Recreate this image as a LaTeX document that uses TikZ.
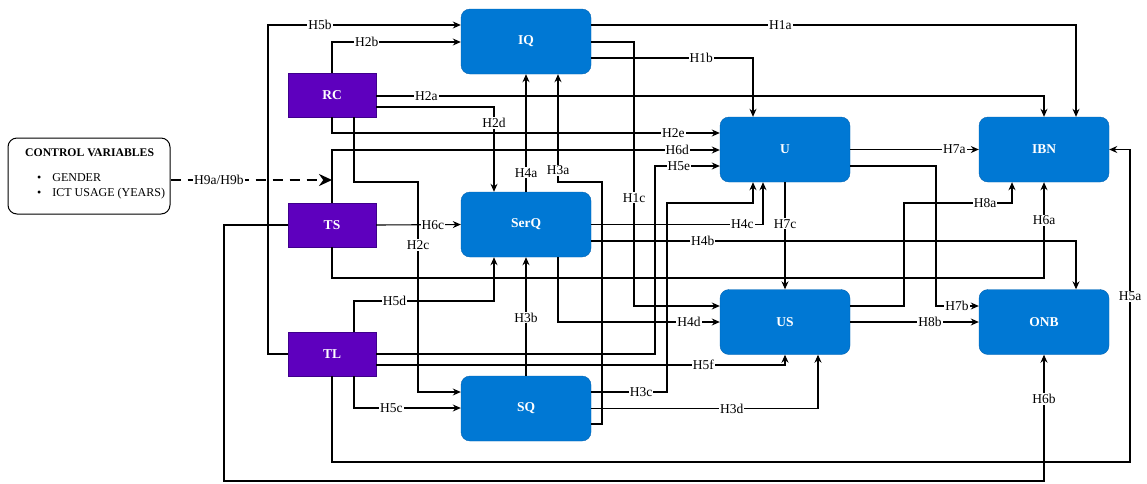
\documentclass[tikz,border=0pt]{standalone}
\usepackage{fontspec}
\setmainfont{Liberation Serif}
\usepackage{xcolor}
\usetikzlibrary{arrows.meta}

\definecolor{boxblue}{RGB}{0,120,212}
\definecolor{boxedge}{RGB}{0,98,178}
\definecolor{factorfill}{RGB}{94,0,190}
\definecolor{factoredge}{RGB}{62,0,140}

\tikzset{
  construct/.style={draw=boxedge, fill=boxblue, rounded corners=9pt,
    minimum width=130pt, minimum height=65pt, text=white,
    font=\fontsize{13.5}{15}\selectfont\bfseries},
  factor/.style={draw=factoredge, fill=factorfill, minimum width=88pt,
    minimum height=44pt, text=white,
    font=\fontsize{13.5}{15}\selectfont\bfseries},
  conn/.style={line width=1.1pt, -{Stealth[length=8pt,width=7pt]}},
  hlab/.style={fill=white, inner sep=1pt, font=\fontsize{13.5}{15}\selectfont},
  ctrlbox/.style={draw, line width=1pt, rounded corners=9pt, fill=white,
    minimum width=162pt, minimum height=76pt}
}

\begin{document}
\begin{tikzpicture}[x=1pt, y=-1pt]
  \useasboundingbox (0,0) rectangle (1147,483);

  % constructs
  \node[construct] (IQ)   at (526,41.5)  {IQ};
  \node[construct] (SerQ) at (526,224.5) {SerQ};
  \node[construct] (SQ)   at (526,408.5) {SQ};
  \node[construct] (U)    at (785,149.5) {U};
  \node[construct] (US)   at (785,322)   {US};
  \node[construct] (IBN)  at (1044,149.5) {IBN};
  \node[construct] (ONB)  at (1044,322)  {ONB};

  % factors
  \node[factor] (RC) at (332,95)  {RC};
  \node[factor] (TS) at (332,225) {TS};
  \node[factor] (TL) at (332,354) {TL};

  % control variables
  \node[ctrlbox] (ctrl) at (89,176) {};
  \node[anchor=base west, inner sep=0pt] (ctrltxt) at (25,156) {%
    \fontsize{12}{15}\selectfont
    \begin{tabular}[t]{@{}l@{}}
      {\fontsize{11.7}{15}\selectfont\textbf{CONTROL VARIABLES}}\\[10pt]
      \hspace{12pt}\textbullet\hspace{11pt}GENDER\\
      \hspace{12pt}\textbullet\hspace{11pt}ICT USAGE (YEARS)
    \end{tabular}%
  };
  \draw[line width=2.5pt, dash pattern=on 10pt off 7pt,
        -{Stealth[length=13pt,width=12pt]}]
    (ctrl.east |- 0,180) -- node[hlab, pos=0.3]{H9a/H9b} (332,180);

  % from RC
  \draw[conn] (RC.north) -- (332,42) -- node[hlab, pos=0.27]{H2b} (IQ.west |- 0,42);
  \draw[conn] (RC.east |- 0,96) -- node[hlab, pos=0.075]{H2a} (1044,96) -- (IBN.north);
  \draw[conn] (RC.east |- 0,107) -- (494,107) -- node[hlab, pos=0.19]{H2d} (SerQ.north -| 494,0);
  \draw[conn] (RC.south) -- (332,133) -- node[hlab, pos=0.88]{H2e} (U.west |- 0,133);
  \draw[conn] (RC.south -| 354,0) -- (354,182) -- (418,182)
    -- node[hlab, pos=0.3]{H2c} (418,392) -- (SQ.west |- 0,392);

  % from TS
  \draw[conn] (TS.east) -- node[hlab, pos=0.67]{H6c} (SerQ.west);
  \draw[conn] (TS.north) -- (332,150) -- node[hlab, pos=0.89]{H6d} (U.west |- 0,150);
  \draw[conn] (TS.south) -- (332,278) -- (1044,278) -- node[hlab, pos=0.6]{H6a} (IBN.south);
  \draw[conn] (TS.west) -- (224,225) -- (224,481) -- (1044,481)
    -- node[hlab, pos=0.65]{H6b} (ONB.south);

  % from TL
  \draw[conn] (TL.west) -- (268,354) -- (268,25) -- node[hlab, pos=0.27]{H5b} (IQ.west |- 0,25);
  \draw[conn] (TL.north -| 354,0) -- (354,301) -- node[hlab, pos=0.29]{H5d} (494,301)
    -- (SerQ.south -| 494,0);
  \draw[conn] (TL.south -| 354,0) -- (354,408) -- node[hlab, pos=0.35]{H5c} (SQ.west |- 0,408);
  \draw[conn] (TL.south) -- (332,462) -- (1130,462) -- node[hlab, pos=0.53]{H5a} (1130,149.5)
    -- (IBN.east);
  \draw[conn] (TL.east) -- (655,354) -- (655,166) -- node[hlab, pos=0.37]{H5e} (U.west |- 0,166);
  \draw[conn] (TL.east |- 0,365) -- node[hlab, pos=0.8]{H5f} (785,365) -- (US.south);

  % from IQ
  \draw[conn] (IQ.east |- 0,25) -- node[hlab, pos=0.39]{H1a} (1076,25) -- (IBN.north -| 1076,0);
  \draw[conn] (IQ.east |- 0,42) -- (634,42) -- node[hlab, pos=0.59]{H1c} (634,306)
    -- (US.west |- 0,306);
  \draw[conn] (IQ.east |- 0,58) -- node[hlab, pos=0.68]{H1b} (753,58) -- (U.north -| 753,0);

  % from SerQ
  \draw[conn] (SerQ.north) -- node[hlab, pos=0.16]{H4a} (IQ.south);
  \draw[conn] (SerQ.east) -- node[hlab, pos=0.88]{H4c} (763,224.5) -- (U.south -| 763,0);
  \draw[conn] (SerQ.east |- 0,241) -- node[hlab, pos=0.23]{H4b} (1076,241)
    -- (ONB.north -| 1076,0);
  \draw[conn] (SerQ.south -| 558,0) -- (558,322) -- node[hlab, pos=0.81]{H4d} (US.west);

  % from SQ
  \draw[conn] (SQ.north) -- node[hlab, pos=0.49]{H3b} (SerQ.south);
  \draw[conn] (SQ.east |- 0,424) -- (602,424) -- (602,182) -- (558,182)
    -- node[hlab, pos=0.11]{H3a} (IQ.south -| 558,0);
  \draw[conn] (SQ.east |- 0,392) -- node[hlab, pos=0.66]{H3c} (667,392) -- (667,203)
    -- (753,203) -- (U.south -| 753,0);
  \draw[conn] (SQ.east) -- node[hlab, pos=0.62]{H3d} (818,408.5) -- (US.south -| 818,0);

  % from U and US
  \draw[conn] (U.east) -- node[hlab, pos=0.81]{H7a} (IBN.west);
  \draw[conn] (U.east |- 0,166) -- (936,166) -- (936,306) -- node[hlab, pos=0.49]{H7b} (ONB.west |- 0,306);
  \draw[conn] (U.south) -- node[hlab, pos=0.39]{H7c} (US.north);
  \draw[conn] (US.east |- 0,306) -- (904,306) -- (904,203) -- node[hlab, pos=0.75]{H8a} (1012,203)
    -- (IBN.south -| 1012,0);
  \draw[conn] (US.east) -- node[hlab, pos=0.62]{H8b} (ONB.west);
\end{tikzpicture}
\end{document}
